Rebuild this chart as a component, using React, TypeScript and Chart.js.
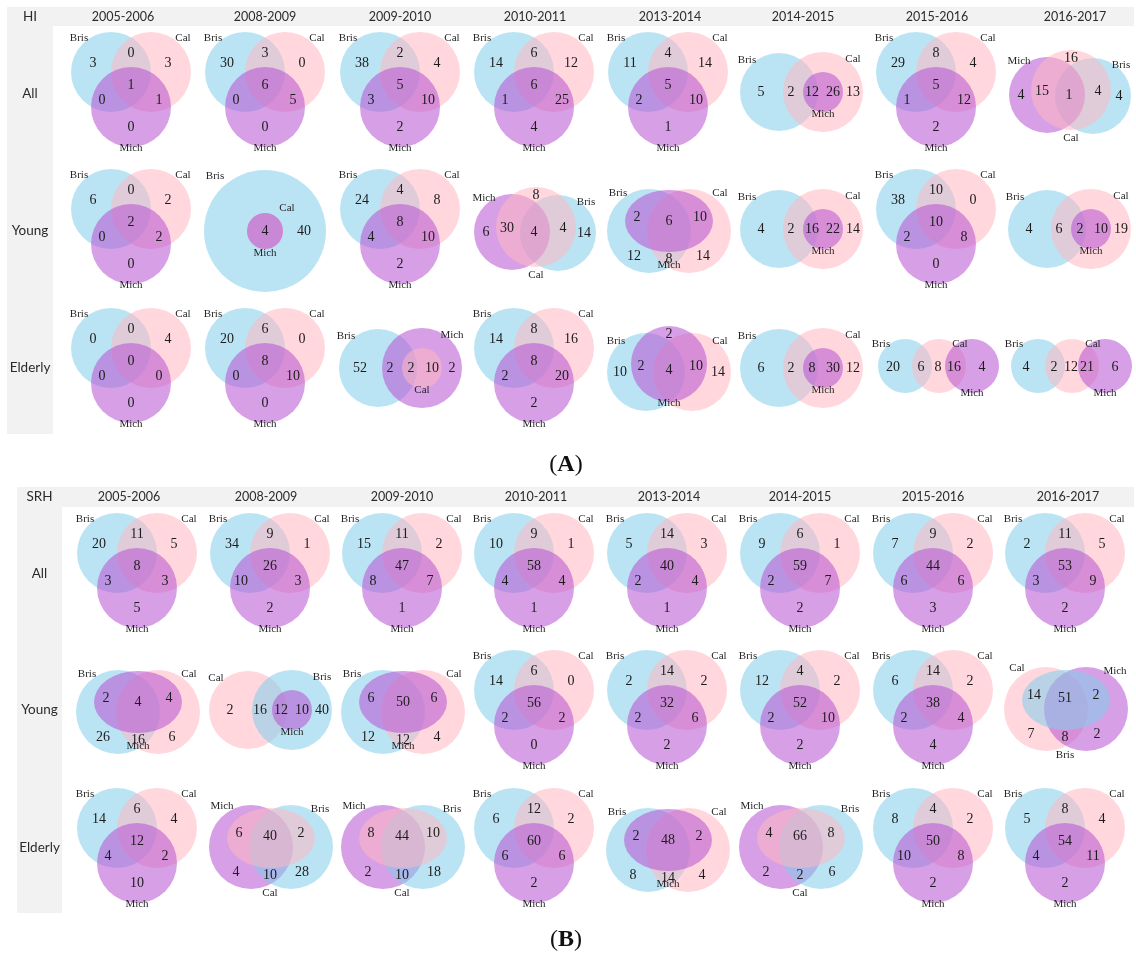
import { useEffect, useRef } from 'react';
import { Chart, registerables } from 'chart.js';

Chart.register(...registerables);

// ---- data ---------------------------------------------------------------
const periods = ['2005-2006', '2008-2009', '2009-2010', '2010-2011', '2013-2014', '2014-2015', '2015-2016', '2016-2017'];
const groups = ['All', 'Young', 'Elderly'];
const setNames: Record<string, string> = { B: 'Bris', C: 'Cal', M: 'Mich' };

// HI: region counts, listed in the order of each diagram type's regions
const hiAll = [
  [3, 0, 3, 1, 0, 1, 0],
  [30, 3, 0, 6, 0, 5, 0],
  [38, 2, 4, 5, 3, 10, 2],
  [14, 6, 12, 6, 1, 25, 4],
  [11, 4, 14, 5, 2, 10, 1],
  [5, 2, 12, 26, 13],
  [29, 8, 4, 5, 1, 12, 2],
  [16, 4, 15, 1, 4, 4],
];
const hiAllType = ['std', 'std', 'std', 'std', 'std', 'pairInner', 'std', 'chain'];
const hiAllSets = ['BCM', 'BCM', 'BCM', 'BCM', 'BCM', 'BCM', 'BCM', 'MCB'];

const hiYoung = [
  [6, 0, 2, 2, 0, 2, 0],
  [40, 4],
  [24, 4, 8, 8, 4, 10, 2],
  [8, 6, 30, 4, 4, 14],
  [2, 6, 10, 12, 8, 14],
  [4, 2, 16, 22, 14],
  [38, 10, 0, 10, 2, 8, 0],
  [4, 6, 2, 10, 19],
];
const hiYoungType = ['std', 'nested', 'std', 'chain', 'ellH', 'pairInner', 'std', 'pairInner'];
const hiYoungSets = ['BCM', 'BCM', 'BCM', 'MCB', 'BCM', 'BCM', 'BCM', 'BCM'];

const hiElderly = [
  [0, 0, 4, 0, 0, 0, 0],
  [20, 6, 0, 8, 0, 10, 0],
  [52, 2, 2, 10, 2],
  [14, 8, 16, 8, 2, 20, 2],
  [2, 2, 4, 10, 10, 14],
  [6, 2, 8, 30, 12],
  [20, 6, 8, 16, 4],
  [4, 2, 12, 21, 6],
];
const hiElderlyType = ['std', 'std', 'pairInner', 'std', 'ellV', 'pairInner', 'chainH', 'chainH'];
const hiElderlySets = ['BCM', 'BCM', 'BMC', 'BCM', 'BCM', 'BCM', 'BCM', 'BCM'];

// SRH
const srhAll = [
  [20, 11, 5, 8, 3, 3, 5],
  [34, 9, 1, 26, 10, 3, 2],
  [15, 11, 2, 47, 8, 7, 1],
  [10, 9, 1, 58, 4, 4, 1],
  [5, 14, 3, 40, 2, 4, 1],
  [9, 6, 1, 59, 2, 7, 2],
  [7, 9, 2, 44, 6, 6, 3],
  [2, 11, 5, 53, 3, 9, 2],
];
const srhAllType = ['std', 'std', 'std', 'std', 'std', 'std', 'std', 'std'];
const srhAllSets = ['BCM', 'BCM', 'BCM', 'BCM', 'BCM', 'BCM', 'BCM', 'BCM'];

const srhYoung = [
  [2, 4, 4, 26, 16, 6],
  [2, 16, 12, 10, 40],
  [6, 50, 6, 12, 12, 4],
  [14, 6, 0, 56, 2, 2, 0],
  [2, 14, 2, 32, 2, 6, 2],
  [12, 4, 2, 52, 2, 10, 2],
  [6, 14, 2, 38, 2, 4, 4],
  [14, 51, 2, 7, 8, 2],
];
const srhYoungType = ['ellH', 'pairInner', 'ellH', 'std', 'std', 'std', 'std', 'ellH2'];
const srhYoungSets = ['BCM', 'CBM', 'BCM', 'BCM', 'BCM', 'BCM', 'BCM', 'CMB'];

const srhElderly = [
  [14, 6, 4, 12, 4, 2, 10],
  [6, 40, 2, 4, 10, 28],
  [8, 44, 10, 2, 10, 18],
  [6, 12, 2, 60, 6, 6, 2],
  [2, 48, 2, 8, 14, 4],
  [4, 66, 8, 2, 2, 6],
  [8, 4, 2, 50, 10, 8, 2],
  [5, 8, 4, 54, 4, 11, 2],
];
const srhElderlyType = ['std', 'ellH2', 'ellH2', 'std', 'ellH', 'ellH2', 'std', 'std'];
const srhElderlySets = ['BCM', 'MBC', 'MBC', 'BCM', 'BCM', 'MBC', 'BCM', 'BCM'];

// ---- diagram types ---------------------------------------------------------
// rings: [role, dx, dy, rx, ry?] in painting order
// counts: [dx, dy] per region, same order as the count arrays
// names: [role, dx, dy]
type Tpl = { rings: number[][]; counts: number[][]; names: number[][] };
const TYPES: Record<string, Tpl> = {
  std: {
    rings: [[0, -20, -18, 40], [1, 20, -18, 40], [2, 0, 17, 40]],
    counts: [[-38, -27], [0, -37], [37, -27], [0, -5], [-29, 10], [28, 10], [0, 37]],
    names: [[0, -52, -52], [1, 52, -52], [2, 0, 58]],
  },
  pairInner: {
    rings: [[0, -22, 2, 39], [1, 22, 2, 40], [2, 22, 2, 20]],
    counts: [[-40, 2], [-10, 2], [11, 2], [32, 2], [52, 2]],
    names: [[0, -54, -30], [1, 52, -31], [2, 22, 24]],
  },
  nested: {
    rings: [[0, 0, 4, 61], [1, 0, 4, 18], [2, 0, 4, 18]],
    counts: [[39, 4], [0, 4]],
    names: [[0, -50, -51], [1, 22, -19], [2, 0, 26]],
  },
  chain: {
    rings: [[2, 24, 6, 38], [0, -22, 5, 38], [1, 2, 0, 40]],
    counts: [[2, -32], [-48, 5], [-27, 1], [0, 5], [29, 1], [50, 6]],
    names: [[0, -50, -29], [2, 52, -25], [1, 2, 48]],
  },
  ellH: {
    rings: [[0, -19, 4, 42], [1, 21, 4, 42], [2, 1, -6, 44, 31]],
    counts: [[-31, -10], [1, -6], [32, -10], [-34, 29], [1, 32], [35, 29]],
    names: [[0, -50, -34], [1, 52, -34], [2, 1, 38]],
  },
  ellH2: {
    rings: [[0, -19, 1, 42], [1, 21, 1, 42], [2, 1, -8, 44, 30]],
    counts: [[-31, -13], [0, -10], [31, -13], [-34, 26], [0, 29], [32, 26]],
    names: [[0, -48, -40], [1, 50, -37], [2, 0, 47]],
  },
  ellV: {
    rings: [[0, -22, 6, 39], [1, 24, 6, 39], [2, 1, -2, 38]],
    counts: [[1, -32], [-27, 0], [1, 4], [28, 0], [-48, 6], [50, 6]],
    names: [[0, -52, -25], [1, 52, -25], [2, 1, 37]],
  },
  chainH: {
    rings: [[0, -31, 0, 27], [1, 3, 0, 27], [2, 36, 0, 27]],
    counts: [[-43, 1], [-15, 1], [2, 1], [18, 1], [46, 1]],
    names: [[0, -55, -22], [1, 24, -22], [2, 36, 27]],
  },
};

const FILL: Record<string, string> = {
  B: 'rgba(130, 205, 235, 0.55)',
  C: 'rgba(255, 182, 193, 0.55)',
  M: 'rgba(184, 84, 210, 0.56)',
};

// ---- panel frames ---------------------------------------------------------
const panels = [
  {
    tag: 'HI', caption: 'A',
    rows: [
      { counts: hiAll, type: hiAllType, sets: hiAllSets },
      { counts: hiYoung, type: hiYoungType, sets: hiYoungSets },
      { counts: hiElderly, type: hiElderlyType, sets: hiElderlySets },
    ],
    top: 7, bandBottom: 26, bottom: 434, left: 7, sideRight: 53, right: 1134,
    cy: [90, 227, 366], rowTextY: [94, 231, 368],
    colX: [131, 265, 400, 534, 668, 801, 936, 1069],
    headX: [123, 265, 400, 535, 670, 803, 937, 1075],
    captionY: 465,
  },
  {
    tag: 'SRH', caption: 'B',
    rows: [
      { counts: srhAll, type: srhAllType, sets: srhAllSets },
      { counts: srhYoung, type: srhYoungType, sets: srhYoungSets },
      { counts: srhElderly, type: srhElderlyType, sets: srhElderlySets },
    ],
    top: 487, bandBottom: 507, bottom: 913, left: 17, sideRight: 62, right: 1134,
    cy: [571, 708, 846], rowTextY: [574, 710, 848],
    colX: [137, 270, 402, 534, 667, 800, 933, 1065],
    headX: [129, 266, 402, 536, 669, 800, 933, 1068],
    captionY: 940,
  },
];

const vennPanels = {
  id: 'vennPanels',
  afterDraw(chart: any) {
    const { ctx } = chart;
    const xs = chart.scales.x;
    const ys = chart.scales.y;
    const X = (v: number) => xs.getPixelForValue(v);
    const Y = (v: number) => ys.getPixelForValue(v);
    const LX = (d: number) => Math.abs(X(d) - X(0));
    const LY = (d: number) => Math.abs(Y(d) - Y(0));

    ctx.save();
    ctx.textAlign = 'center';
    ctx.textBaseline = 'middle';

    panels.forEach((p) => {
      // grey header band and side column
      ctx.fillStyle = '#f2f2f2';
      ctx.fillRect(X(p.left), Y(p.top), X(p.right) - X(p.left), Y(p.bandBottom) - Y(p.top));
      ctx.fillRect(X(p.left), Y(p.top), X(p.sideRight) - X(p.left), Y(p.bottom) - Y(p.top));

      ctx.fillStyle = '#2b2b2b';
      ctx.font = '13.5px Lato';
      const sideMid = (p.left + p.sideRight) / 2;
      ctx.fillText(p.tag, X(sideMid), Y((p.top + p.bandBottom) / 2));
      groups.forEach((g, r) => ctx.fillText(g, X(sideMid), Y(p.rowTextY[r])));
      ctx.font = '12.5px Lato';
      periods.forEach((per, c) => ctx.fillText(per, X(p.headX[c]), Y((p.top + p.bandBottom) / 2)));

      p.rows.forEach((row, r) => {
        row.counts.forEach((vals, c) => {
          const tpl = TYPES[row.type[c]];
          const roles = row.sets[c];
          const cx = p.colX[c];
          const cy = p.cy[r];
          tpl.rings.forEach(([role, dx, dy, rx, ry]) => {
            ctx.fillStyle = FILL[roles[role]];
            ctx.beginPath();
            ctx.ellipse(X(cx + dx), Y(cy + dy), LX(rx), LY(ry ?? rx), 0, 0, Math.PI * 2);
            ctx.fill();
          });
          ctx.fillStyle = '#1c1c1c';
          ctx.font = '14px "Liberation Serif"';
          vals.forEach((v, i) => {
            const [dx, dy] = tpl.counts[i];
            ctx.fillText(String(v), X(cx + dx), Y(cy + dy));
          });
          ctx.fillStyle = '#262626';
          ctx.font = '11px "Liberation Serif"';
          tpl.names.forEach(([role, dx, dy]) => {
            ctx.fillText(setNames[roles[role]], X(cx + dx), Y(cy + dy));
          });
        });
      });

      // panel caption "(A)" / "(B)" with a bold letter
      ctx.fillStyle = '#111111';
      const reg = '24px "Liberation Serif"';
      const bold = 'bold 24px "Liberation Serif"';
      ctx.font = reg;
      const wp = ctx.measureText('(').width;
      const wq = ctx.measureText(')').width;
      ctx.font = bold;
      const wl = ctx.measureText(p.caption).width;
      const total = wp + wl + wq;
      let sx = X(566) - total / 2;
      ctx.textAlign = 'left';
      ctx.font = reg;
      ctx.fillText('(', sx, Y(p.captionY));
      sx += wp;
      ctx.font = bold;
      ctx.fillText(p.caption, sx, Y(p.captionY));
      sx += wl;
      ctx.font = reg;
      ctx.fillText(')', sx, Y(p.captionY));
      ctx.textAlign = 'center';
    });
    ctx.restore();
  },
};

export default function App() {
  const ref = useRef<HTMLCanvasElement | null>(null);
  useEffect(() => {
    if (!ref.current) return;
    const chart = new Chart(ref.current, {
      type: 'scatter',
      data: { datasets: [] },
      options: {
        animation: false,
        responsive: false,
        devicePixelRatio: 1,
        layout: { padding: 0 },
        plugins: { legend: { display: false }, tooltip: { enabled: false } },
        scales: {
          x: { type: 'linear', min: 0, max: 1136, display: false },
          y: { type: 'linear', min: 0, max: 955, reverse: true, display: false },
        },
      },
      plugins: [vennPanels],
    });
    return () => chart.destroy();
  }, []);
  return (
    <div style={{ position: 'absolute', left: 0, top: 0, width: 1136, height: 955, background: '#ffffff' }}>
      <canvas ref={ref} width={1136} height={955} style={{ display: 'block' }} />
    </div>
  );
}
